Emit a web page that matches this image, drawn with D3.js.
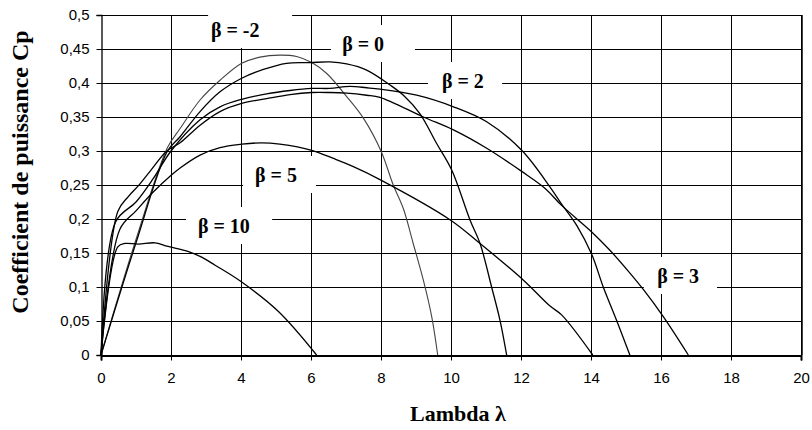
<!DOCTYPE html>
<html>
<head>
<meta charset="utf-8">
<script src="https://cdn.jsdelivr.net/npm/d3@7"></script>
<style>
html,body{margin:0;padding:0;background:#fff;}
svg{display:block;}
.tick text{font-family:"Liberation Sans",Arial,sans-serif;font-size:15px;fill:#000;}
</style>
</head>
<body>
<svg id="chart" width="812" height="430"></svg>
<script>
// ---- data ----
const xTicks = [0,2,4,6,8,10,12,14,16,18,20];
const yTicks = [0,0.05,0.1,0.15,0.2,0.25,0.3,0.35,0.4,0.45,0.5];
const yTickLabels = ["0","0,05","0,1","0,15","0,2","0,25","0,3","0,35","0,4","0,45","0,5"];

const lambdaBm2 = [0,1,1.9,2.26,2.83,3.4,4.02,4.54,5.11,5.59,6.02,6.45,7.02,7.5,8.0,8.35,8.64,8.92,9.21,9.45,9.62];
const cpBm2     = [0,0.17,0.305,0.333,0.375,0.404,0.429,0.438,0.441,0.439,0.430,0.414,0.380,0.348,0.300,0.250,0.215,0.164,0.110,0.056,0];

const lambdaB0 = [0,1,1.9,2.26,2.83,3.4,4.02,4.64,5.3,5.97,6.54,7.02,7.59,8.26,8.64,9.11,9.59,10.02,10.54,10.83,11.16,11.4,11.59];
const cpB0     = [0,0.165,0.30,0.321,0.358,0.387,0.407,0.420,0.429,0.430,0.431,0.428,0.419,0.397,0.382,0.355,0.311,0.272,0.199,0.164,0.100,0.051,0];

const lambdaB2 = [0,0.42,1,1.5,2,2.83,3.4,4.02,4.73,5.4,6.02,6.54,7.11,7.59,7.97,9.02,10.07,11.02,12.02,12.83,13.16,13.6,14.02,14.35,14.73,15.11];
const cpB2     = [0,0.196,0.225,0.26,0.30,0.346,0.365,0.376,0.384,0.389,0.392,0.392,0.395,0.393,0.391,0.382,0.365,0.343,0.301,0.247,0.222,0.190,0.148,0.100,0.051,0];

const lambdaB3 = [0,0.48,0.78,1.07,1.4,1.88,2.26,2.83,3.4,4.02,4.73,5.4,6.02,6.54,7.02,7.59,7.97,9.21,10.07,11.02,12.02,12.69,13.16,14.02,14.54,15.07,15.5,16.07,16.78];
const cpB3     = [0,0.211,0.233,0.249,0.270,0.300,0.312,0.338,0.358,0.370,0.377,0.383,0.386,0.386,0.385,0.382,0.379,0.350,0.331,0.304,0.270,0.245,0.220,0.181,0.154,0.123,0.096,0.056,0];

const lambdaB5 = [0,0.54,1,1.5,2.02,2.26,2.83,3.4,4.02,4.59,5.11,6.02,6.64,7.21,7.97,9.97,10.83,12.07,12.83,13.16,14.05];
const cpB5     = [0,0.185,0.212,0.24,0.265,0.275,0.294,0.305,0.310,0.312,0.310,0.301,0.289,0.277,0.258,0.199,0.164,0.110,0.072,0.059,0];

const lambdaB10 = [0,0.48,0.69,1.07,1.54,1.88,2.5,2.83,3.26,4,5.07,6.16];
const cpB10     = [0,0.159,0.164,0.163,0.165,0.160,0.152,0.145,0.132,0.108,0.064,0];

const seriesNames = ["β = -2","β = 0","β = 2","β = 3","β = 5","β = 10"];
const seriesLambda = [lambdaBm2,lambdaB0,lambdaB2,lambdaB3,lambdaB5,lambdaB10];
const seriesCp = [cpBm2,cpB0,cpB2,cpB3,cpB5,cpB10];

// label anchors (data units): text start lambda, baseline Cp
const labelLambda = [3.14,6.89,9.74,15.89,4.40,2.77];
const labelCp     = [0.4676,0.447,0.3926,0.1059,0.2544,0.1794];
const boxLeftLambda  = [3.06,6.57,9.34,15.51,4.06,2.43];
const boxRightLambda = [5.46,8.97,11.46,17.60,6.14,4.89];

// ---- drawing ----
const svg = d3.select("#chart");
const x = d3.scaleLinear().domain([0,20]).range([101,801]);
const y = d3.scaleLinear().domain([0,0.5]).range([355,15]);

const g = svg.append("g");

// grid
g.append("g").selectAll("line").data(yTicks.slice(1)).join("line")
  .attr("x1",x(0)).attr("x2",x(20))
  .attr("y1",d=>Math.round(y(d))+0.5).attr("y2",d=>Math.round(y(d))+0.5)
  .attr("stroke","#000").attr("stroke-width",1);
g.append("g").selectAll("line").data(xTicks.slice(1)).join("line")
  .attr("x1",d=>Math.round(x(d))+0.5).attr("x2",d=>Math.round(x(d))+0.5)
  .attr("y1",y(0.5)).attr("y2",y(0))
  .attr("stroke","#000").attr("stroke-width",1);
// right border thicker
g.append("line").attr("x1",x(20)+1).attr("x2",x(20)+1).attr("y1",y(0.5)).attr("y2",y(0))
  .attr("stroke","#000").attr("stroke-width",1.5);

// white label boxes
const labels = seriesNames.map((t,i)=>({t,lx:labelLambda[i],ly:labelCp[i],bl:boxLeftLambda[i],br:boxRightLambda[i]}));
g.append("g").selectAll("rect").data(labels).join("rect")
  .attr("x",d=>x(d.bl)).attr("width",d=>x(d.br)-x(d.bl))
  .attr("y",d=>y(d.ly)-26).attr("height",37)
  .attr("fill","#fff");

// axes
const yAxis = d3.axisLeft(y).tickValues(yTicks).tickSize(5).tickPadding(7)
  .tickFormat((d,i)=>yTickLabels[i]);
const xAxis = d3.axisBottom(x).tickValues(xTicks).tickSize(5).tickPadding(12)
  .tickFormat(d=>String(d));
const ya = g.append("g").attr("transform",`translate(${x(0)+0.5},0)`).call(yAxis);
const xa = g.append("g").attr("transform","translate(0,355.5)").call(xAxis);
ya.select(".domain").attr("stroke","#000").attr("stroke-width",1.3);
xa.select(".domain").attr("stroke","#000").attr("stroke-width",2);
ya.selectAll(".tick line").attr("stroke","#000");
xa.selectAll(".tick line").attr("stroke","#000");
xa.selectAll(".tick text").attr("dy","0.71em");

// curves
const line = d3.line().x(d=>x(d[0])).y(d=>y(d[1])).curve(d3.curveCatmullRom.alpha(0.5));
seriesNames.forEach((n,i)=>{
  const pts = seriesLambda[i].map((l,j)=>[l,seriesCp[i][j]]);
  g.append("path").datum(pts).attr("d",line)
    .attr("fill","none")
    .attr("stroke", i===0 ? "#444" : "#000")
    .attr("stroke-width", i===0 ? 1.1 : 1.3);
});

// labels text
g.append("g").selectAll("text").data(labels).join("text")
  .attr("x",d=>x(d.lx)).attr("y",d=>y(d.ly))
  .attr("font-family","'Liberation Serif','Times New Roman',serif")
  .attr("font-weight","bold").attr("font-size",20)
  .attr("fill","#000")
  .text(d=>d.t);

// axis titles
svg.append("text").attr("x",458).attr("y",421).attr("text-anchor","middle")
  .attr("font-family","'Liberation Serif','Times New Roman',serif")
  .attr("font-weight","bold").attr("font-size",22).text("Lambda λ");
svg.append("text").attr("transform","translate(28,172) rotate(-90)").attr("text-anchor","middle")
  .attr("font-family","'Liberation Serif','Times New Roman',serif")
  .attr("font-weight","bold").attr("font-size",24).text("Coefficient de puissance Cp");
</script>
</body>
</html>
